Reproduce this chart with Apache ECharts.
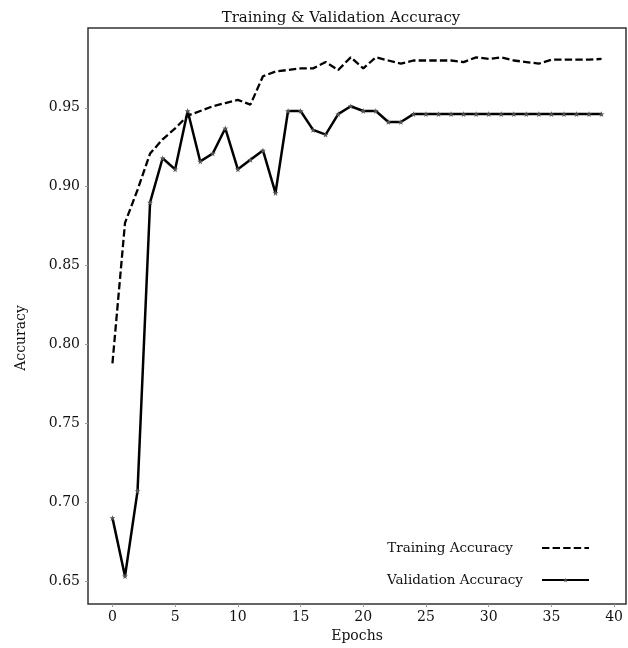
<!DOCTYPE html>
<html>
<head>
<meta charset="utf-8">
<script src="https://cdn.jsdelivr.net/npm/echarts@6/dist/echarts.min.js"></script>
<style>
html, body { margin: 0; padding: 0; background: #fff; }
#main { width: 628px; height: 648px; }
</style>
</head>
<body>
<div id="main"></div>
<script>
var epochs = [];
for (var i = 0; i < 40; i++) epochs.push(i);

var trainAcc = [0.788, 0.877, 0.898, 0.921, 0.930, 0.937, 0.945, 0.948, 0.951, 0.953,
    0.955, 0.952, 0.970, 0.973, 0.974, 0.975, 0.975, 0.979, 0.974, 0.982,
    0.975, 0.982, 0.980, 0.978, 0.980, 0.980, 0.980, 0.980, 0.979, 0.982,
    0.981, 0.982, 0.980, 0.979, 0.978, 0.9805, 0.9805, 0.9805, 0.9805, 0.981];

var valAcc = [0.690, 0.653, 0.707, 0.890, 0.918, 0.911, 0.948, 0.916, 0.921, 0.937,
    0.911, 0.917, 0.923, 0.896, 0.948, 0.948, 0.936, 0.933, 0.946, 0.951,
    0.948, 0.948, 0.941, 0.941, 0.946, 0.946, 0.946, 0.946, 0.946, 0.946,
    0.946, 0.946, 0.946, 0.946, 0.946, 0.946, 0.946, 0.946, 0.946, 0.946];

var xTicks = [0, 5, 10, 15, 20, 25, 30, 35, 40];
var yTicks = [0.65, 0.70, 0.75, 0.80, 0.85, 0.90, 0.95];

var font = 'DejaVu Serif';
var star = 'path://M0,-1 L0.22,-0.3 L0.95,-0.31 L0.36,0.12 L0.59,0.81 L0,0.38 L-0.59,0.81 L-0.36,0.12 L-0.95,-0.31 L-0.22,-0.3 Z';

var dom = document.getElementById('main');
var myChart = echarts.init(dom);
var option = {
    backgroundColor: '#fff',
    animation: false,
    textStyle: { fontFamily: font, color: '#111' },
    title: {
        text: 'Training & Validation Accuracy',
        left: 336, textAlign: 'center', top: 6,
        textStyle: { fontFamily: font, fontSize: 15, fontWeight: 'normal', color: '#111' }
    },
    grid: {
        left: 88, right: 2, top: 28, bottom: 43,
        show: true, borderColor: '#333', borderWidth: 1.5, backgroundColor: '#fff'
    },
    legend: {
        orient: 'vertical', right: 33, top: 536, align: 'right',
        itemWidth: 47, itemHeight: 6, itemGap: 18,
        textStyle: { fontFamily: font, fontSize: 13.5, color: '#111', padding: [0, 14, 0, 0] },
        data: [
            { name: 'Training Accuracy', itemStyle: { opacity: 0 }, textStyle: { padding: [0, 24, 0, 0] } },
            { name: 'Validation Accuracy' }
        ]
    },
    xAxis: {
        type: 'value', min: -1.95, max: 40.95,
        name: 'Epochs', nameLocation: 'middle', nameGap: 25,
        nameTextStyle: { fontFamily: font, fontSize: 14, color: '#111' },
        axisLine: { show: false, onZero: false },
        axisTick: { show: true, customValues: xTicks, length: 3, lineStyle: { color: '#999' } },
        axisLabel: { customValues: xTicks, fontFamily: font, fontSize: 14, color: '#111', margin: 6 },
        splitLine: { show: false }
    },
    yAxis: {
        type: 'value', min: 0.6354, max: 1.0006,
        name: 'Accuracy', nameLocation: 'middle', nameGap: 60,
        nameTextStyle: { fontFamily: font, fontSize: 14, color: '#111', padding: [0, 44, 0, 0] },
        axisLine: { show: false, onZero: false },
        axisTick: { show: true, customValues: yTicks, length: 3, lineStyle: { color: '#999' } },
        axisLabel: {
            customValues: yTicks, fontFamily: font, fontSize: 14, color: '#111', margin: 8,
            formatter: function (v) { return v.toFixed(2); }
        },
        splitLine: { show: false }
    },
    series: [
        {
            name: 'Training Accuracy', type: 'line',
            data: epochs.map(function (e, i) { return [e, trainAcc[i]]; }),
            showSymbol: false, symbol: 'none',
            lineStyle: { color: '#000', width: 2.3, type: [7.4, 3.2] },
            itemStyle: { color: '#000' }
        },
        {
            name: 'Validation Accuracy', type: 'line',
            data: epochs.map(function (e, i) { return [e, valAcc[i]]; }),
            symbol: star, symbolSize: 6,
            lineStyle: { color: '#000', width: 2.5 },
            itemStyle: { color: '#555' }
        }
    ]
};
myChart.setOption(option);
window.onresize = function () { myChart.resize(); };
</script>
</body>
</html>
